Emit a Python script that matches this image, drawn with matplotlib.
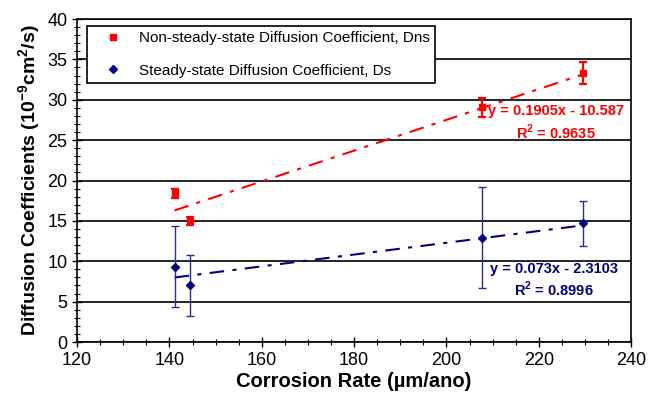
import numpy as np
import matplotlib
matplotlib.use("Agg")
import matplotlib.pyplot as plt
from matplotlib.lines import Line2D
from matplotlib.ticker import MultipleLocator

plt.rcParams['font.family'] = ['Liberation Sans', 'DejaVu Sans']
plt.rcParams['mathtext.fontset'] = 'custom'
plt.rcParams['mathtext.rm'] = 'Liberation Sans'
plt.rcParams['mathtext.bf'] = 'Liberation Sans:bold'

# corrosion rate (um/ano)
rate = [141.1, 144.4, 207.6, 229.5]

# non-steady-state Dns and its error
dns = [18.4, 15.0, 29.05, 33.35]
dns_err = [0.55, 0.5, 1.2, 1.35]

# steady-state Ds and its error
ds = [9.35, 7.0, 12.9, 14.7]
ds_err = [5.0, 3.8, 6.25, 2.77]

# trendline coefficients (slope, intercept) from the chart
fit_dns = (0.1905, -10.587)
fit_ds = (0.073, -2.3103)

RED = '#ff0000'
BLUE = '#000080'
BLUE_ERR = '#2b2b9a'

fig = plt.figure(figsize=(6.48, 3.97), dpi=100)
ax = fig.add_axes([0.119, 0.1385, 0.855, 0.8136])

xs = np.array([min(rate), max(rate)])

# trend lines
ax.plot(xs, fit_dns[0] * xs + fit_dns[1], color=RED, lw=1.5,
        linestyle=(0, (7, 4, 2, 4)), zorder=3)
ax.plot(xs, fit_ds[0] * xs + fit_ds[1], color=BLUE, lw=1.5,
        linestyle=(0, (7, 4, 2, 4)), zorder=3)

# points with error bars
ax.errorbar(rate, dns, yerr=dns_err, fmt='s', color=RED, ms=4,
            ecolor=RED, elinewidth=1.6, capsize=3, capthick=1.6, zorder=4)
ax.errorbar(rate, ds, yerr=ds_err, fmt='D', color=BLUE, ms=4.5,
            ecolor=BLUE_ERR, elinewidth=1.0, capsize=3, capthick=1.0, zorder=4)

# equations
ax.text(223.8, 28.6, 'y = 0.1905x - 10.587', color=RED, fontsize=10.5,
        fontweight='bold', ha='center', va='center')
ax.text(223.8, 26.0, 'R$^{\\mathbf{2}}$ = 0.9635', color=RED, fontsize=10.5,
        fontweight='bold', ha='center', va='center')
ax.text(223.2, 9.1, 'y = 0.073x - 2.3103', color=BLUE, fontsize=10.5,
        fontweight='bold', ha='center', va='center')
ax.text(223.2, 6.5, 'R$^{\\mathbf{2}}$ = 0.8996', color=BLUE, fontsize=10.5,
        fontweight='bold', ha='center', va='center')

ax.set_xlim(120, 240)
ax.set_ylim(0, 40)
ax.xaxis.set_major_locator(MultipleLocator(20))
ax.xaxis.set_minor_locator(MultipleLocator(5))
ax.yaxis.set_major_locator(MultipleLocator(5))
ax.yaxis.set_minor_locator(MultipleLocator(1))
ax.tick_params(which='major', direction='inout', length=7, width=1,
               labelsize=13, colors='black')
ax.tick_params(which='minor', direction='inout', length=4, width=0.8)
ax.yaxis.grid(True, which='major', color='black', lw=1.2)
ax.set_axisbelow(True)
for s in ax.spines.values():
    s.set_linewidth(1.2)

ax.set_xlabel('Corrosion Rate (µm/ano)', fontsize=14.5, fontweight='bold',
              labelpad=2)
ax.set_ylabel('Diffusion Coefficients (10$^{\\mathbf{-9}}$cm$^{\\mathbf{2}}$/s)',
              fontsize=14, fontweight='bold', labelpad=3)

handles = [
    Line2D([], [], ls='none', marker='s', color=RED, ms=4),
    Line2D([], [], ls='none', marker='D', color=BLUE, ms=4),
]
labels = ['Non-steady-state Diffusion Coefficient, Dns',
          'Steady-state Diffusion Coefficient, Ds']
leg = ax.legend(handles, labels, loc='upper left',
                bbox_to_anchor=(0.0186, 0.978), fontsize=11, frameon=True,
                fancybox=False, edgecolor='black', framealpha=1,
                borderaxespad=0, handlelength=2.6, handletextpad=0.4,
                labelspacing=1.2, borderpad=0.35)
leg.get_frame().set_linewidth(1.2)

fig.savefig('out.png', dpi=100)
